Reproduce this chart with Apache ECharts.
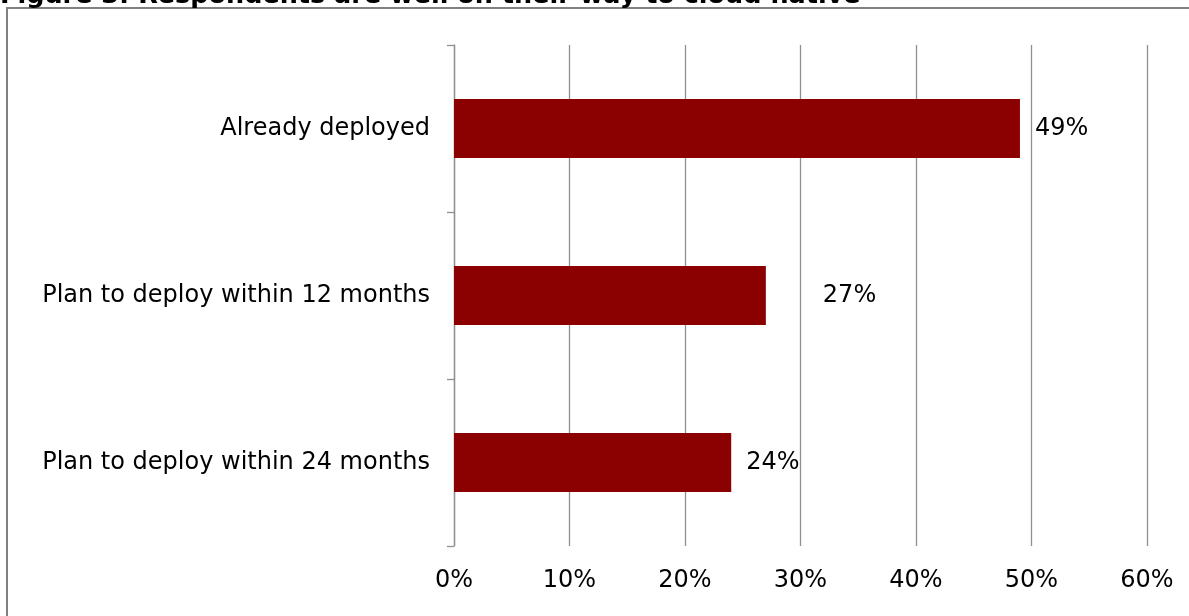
<!DOCTYPE html>
<html>
<head>
<meta charset="utf-8">
<script src="https://cdn.jsdelivr.net/npm/echarts@6/dist/echarts.min.js"></script>
<style>
html,body{margin:0;padding:0;background:#fff;}
#chart{width:1189px;height:616px;}
</style>
</head>
<body>
<div id="chart"></div>
<script>
const titleText = "Figure 3: Respondents are well on their way to cloud native";
const categories = ["Already deployed", "Plan to deploy within 12 months", "Plan to deploy within 24 months"];
const values = [49, 27, 24];
const labelOffsets = [0, 42, 0];
const xTicks = [0, 10, 20, 30, 40, 50, 60];

const chart = echarts.init(document.getElementById('chart'), null, {renderer: 'canvas'});
const font = "'DejaVu Sans', Verdana, sans-serif";
const option = {
  animation: false,
  backgroundColor: '#fff',
  graphic: [
    {
      type: 'rect',
      shape: {x: 7, y: 8, width: 1400, height: 800},
      style: {fill: 'none', stroke: '#808080', lineWidth: 2},
      z: 0
    },
    {
      type: 'text',
      left: 0,
      top: -17,
      style: {text: titleText, font: "bold 25.5px 'DejaVu Sans', Verdana, sans-serif", fill: '#000'},
      z: 10
    }
  ],
  grid: {left: 454, right: 42, top: 45, bottom: 70, containLabel: false},
  xAxis: {
    type: 'value',
    min: xTicks[0],
    max: xTicks[xTicks.length - 1],
    interval: 10,
    axisLine: {show: false},
    axisTick: {show: false},
    splitLine: {show: true, lineStyle: {color: '#909090', width: 1.3}},
    axisLabel: {
      fontFamily: font, fontSize: 24, color: '#000', margin: 23,
      formatter: v => v + '%'
    }
  },
  yAxis: {
    type: 'category',
    data: categories,
    inverse: true,
    axisLine: {show: true, lineStyle: {color: '#909090', width: 1.3}},
    axisTick: {show: true, length: 7, lineStyle: {color: '#909090', width: 1.3}},
    axisLabel: {fontFamily: font, fontSize: 24, color: '#000', margin: 24},
    splitLine: {show: false}
  },
  series: [{
    type: 'bar',
    barWidth: 59,
    itemStyle: {color: '#8B0000'},
    data: values.map((v, i) => ({
      value: v,
      label: {offset: [labelOffsets[i], 0]}
    })),
    label: {
      show: true,
      position: 'right',
      distance: 15,
      fontFamily: font,
      fontSize: 24,
      color: '#000',
      formatter: p => p.value + '%'
    }
  }]
};
chart.setOption(option);
</script>
</body>
</html>
